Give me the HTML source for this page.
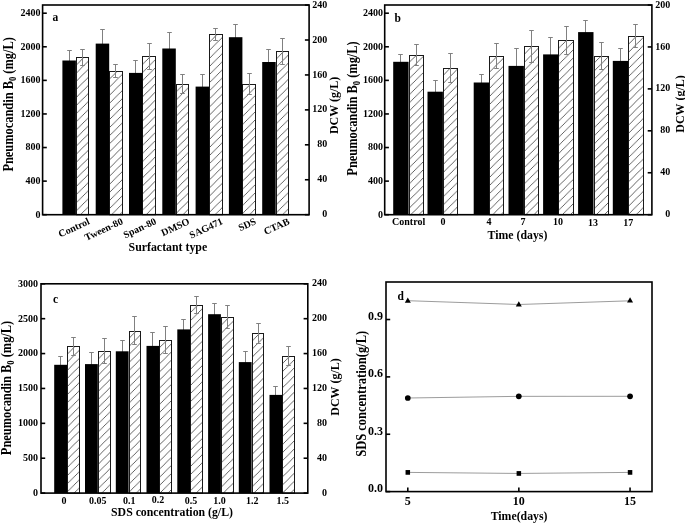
<!DOCTYPE html><html><head><meta charset="utf-8"><style>html,body{margin:0;padding:0;background:#fff;width:685px;height:523px;overflow:hidden}svg{display:block;will-change:transform}text{font-family:"Liberation Serif",serif;font-weight:bold;fill:#000}</style></head><body>
<svg width="685" height="523" viewBox="0 0 685 523">
<rect width="685" height="523" fill="#fff"/>
<pattern id="h1" patternUnits="userSpaceOnUse" x="75.9" y="57.3" width="8.1" height="8.1"><path d="M-1,1 L1,-1 M0,8.1 L8.1,0 M7.1,9.1 L9.1,7.1" stroke="#484848" stroke-width="0.85"/></pattern>
<rect x="76.5" y="57.5" width="12" height="157.2" fill="url(#h1)" stroke="#1a1a1a" stroke-width="1"/>
<line x1="82.5" y1="49.5" x2="82.5" y2="65.5" stroke="#808080" stroke-width="1"/>
<line x1="80.2" y1="49.5" x2="84.8" y2="49.5" stroke="#808080" stroke-width="1"/>
<line x1="80.2" y1="65.5" x2="84.8" y2="65.5" stroke="#808080" stroke-width="1"/>
<line x1="69.5" y1="50.5" x2="69.5" y2="70.5" stroke="#808080" stroke-width="1"/>
<line x1="67.2" y1="50.5" x2="71.8" y2="50.5" stroke="#808080" stroke-width="1"/>
<line x1="67.2" y1="70.5" x2="71.8" y2="70.5" stroke="#808080" stroke-width="1"/>
<rect x="62.4" y="60.5" width="13.5" height="154.2" fill="#000"/>
<pattern id="h2" patternUnits="userSpaceOnUse" x="109.2" y="71.2" width="8.1" height="8.1"><path d="M-1,1 L1,-1 M0,8.1 L8.1,0 M7.1,9.1 L9.1,7.1" stroke="#484848" stroke-width="0.85"/></pattern>
<rect x="109.5" y="71.5" width="13" height="143.2" fill="url(#h2)" stroke="#1a1a1a" stroke-width="1"/>
<line x1="115.5" y1="64.5" x2="115.5" y2="77.5" stroke="#808080" stroke-width="1"/>
<line x1="113.2" y1="64.5" x2="117.8" y2="64.5" stroke="#808080" stroke-width="1"/>
<line x1="113.2" y1="77.5" x2="117.8" y2="77.5" stroke="#808080" stroke-width="1"/>
<line x1="102.5" y1="29.5" x2="102.5" y2="57.5" stroke="#808080" stroke-width="1"/>
<line x1="100.2" y1="29.5" x2="104.8" y2="29.5" stroke="#808080" stroke-width="1"/>
<line x1="100.2" y1="57.5" x2="104.8" y2="57.5" stroke="#808080" stroke-width="1"/>
<rect x="95.7" y="43.6" width="13.5" height="171.1" fill="#000"/>
<pattern id="h3" patternUnits="userSpaceOnUse" x="142.5" y="56.3" width="8.1" height="8.1"><path d="M-1,1 L1,-1 M0,8.1 L8.1,0 M7.1,9.1 L9.1,7.1" stroke="#484848" stroke-width="0.85"/></pattern>
<rect x="142.5" y="56.5" width="13" height="158.2" fill="url(#h3)" stroke="#1a1a1a" stroke-width="1"/>
<line x1="149.5" y1="43.5" x2="149.5" y2="69.5" stroke="#808080" stroke-width="1"/>
<line x1="147.2" y1="43.5" x2="151.8" y2="43.5" stroke="#808080" stroke-width="1"/>
<line x1="147.2" y1="69.5" x2="151.8" y2="69.5" stroke="#808080" stroke-width="1"/>
<line x1="135.5" y1="60.5" x2="135.5" y2="84.5" stroke="#808080" stroke-width="1"/>
<line x1="133.2" y1="60.5" x2="137.8" y2="60.5" stroke="#808080" stroke-width="1"/>
<line x1="133.2" y1="84.5" x2="137.8" y2="84.5" stroke="#808080" stroke-width="1"/>
<rect x="129" y="72.9" width="13.5" height="141.8" fill="#000"/>
<pattern id="h4" patternUnits="userSpaceOnUse" x="175.8" y="84.1" width="8.1" height="8.1"><path d="M-1,1 L1,-1 M0,8.1 L8.1,0 M7.1,9.1 L9.1,7.1" stroke="#484848" stroke-width="0.85"/></pattern>
<rect x="176.5" y="84.5" width="12" height="130.2" fill="url(#h4)" stroke="#1a1a1a" stroke-width="1"/>
<line x1="182.5" y1="74.5" x2="182.5" y2="93.5" stroke="#808080" stroke-width="1"/>
<line x1="180.2" y1="74.5" x2="184.8" y2="74.5" stroke="#808080" stroke-width="1"/>
<line x1="180.2" y1="93.5" x2="184.8" y2="93.5" stroke="#808080" stroke-width="1"/>
<line x1="169.5" y1="32.5" x2="169.5" y2="64.5" stroke="#808080" stroke-width="1"/>
<line x1="167.2" y1="32.5" x2="171.8" y2="32.5" stroke="#808080" stroke-width="1"/>
<line x1="167.2" y1="64.5" x2="171.8" y2="64.5" stroke="#808080" stroke-width="1"/>
<rect x="162.3" y="48.5" width="13.5" height="166.2" fill="#000"/>
<pattern id="h5" patternUnits="userSpaceOnUse" x="209.1" y="34.4" width="8.1" height="8.1"><path d="M-1,1 L1,-1 M0,8.1 L8.1,0 M7.1,9.1 L9.1,7.1" stroke="#484848" stroke-width="0.85"/></pattern>
<rect x="209.5" y="34.5" width="13" height="180.2" fill="url(#h5)" stroke="#1a1a1a" stroke-width="1"/>
<line x1="215.5" y1="28.5" x2="215.5" y2="40.5" stroke="#808080" stroke-width="1"/>
<line x1="213.2" y1="28.5" x2="217.8" y2="28.5" stroke="#808080" stroke-width="1"/>
<line x1="213.2" y1="40.5" x2="217.8" y2="40.5" stroke="#808080" stroke-width="1"/>
<line x1="202.5" y1="74.5" x2="202.5" y2="98.5" stroke="#808080" stroke-width="1"/>
<line x1="200.2" y1="74.5" x2="204.8" y2="74.5" stroke="#808080" stroke-width="1"/>
<line x1="200.2" y1="98.5" x2="204.8" y2="98.5" stroke="#808080" stroke-width="1"/>
<rect x="195.6" y="86.6" width="13.5" height="128.1" fill="#000"/>
<pattern id="h6" patternUnits="userSpaceOnUse" x="242.4" y="84.1" width="8.1" height="8.1"><path d="M-1,1 L1,-1 M0,8.1 L8.1,0 M7.1,9.1 L9.1,7.1" stroke="#484848" stroke-width="0.85"/></pattern>
<rect x="242.5" y="84.5" width="13" height="130.2" fill="url(#h6)" stroke="#1a1a1a" stroke-width="1"/>
<line x1="249.5" y1="73.5" x2="249.5" y2="94.5" stroke="#808080" stroke-width="1"/>
<line x1="247.2" y1="73.5" x2="251.8" y2="73.5" stroke="#808080" stroke-width="1"/>
<line x1="247.2" y1="94.5" x2="251.8" y2="94.5" stroke="#808080" stroke-width="1"/>
<line x1="235.5" y1="24.5" x2="235.5" y2="49.5" stroke="#808080" stroke-width="1"/>
<line x1="233.2" y1="24.5" x2="237.8" y2="24.5" stroke="#808080" stroke-width="1"/>
<line x1="233.2" y1="49.5" x2="237.8" y2="49.5" stroke="#808080" stroke-width="1"/>
<rect x="228.9" y="37.2" width="13.5" height="177.5" fill="#000"/>
<pattern id="h7" patternUnits="userSpaceOnUse" x="275.7" y="51.4" width="8.1" height="8.1"><path d="M-1,1 L1,-1 M0,8.1 L8.1,0 M7.1,9.1 L9.1,7.1" stroke="#484848" stroke-width="0.85"/></pattern>
<rect x="276.5" y="51.5" width="12" height="163.2" fill="url(#h7)" stroke="#1a1a1a" stroke-width="1"/>
<line x1="282.5" y1="38.5" x2="282.5" y2="64.5" stroke="#808080" stroke-width="1"/>
<line x1="280.2" y1="38.5" x2="284.8" y2="38.5" stroke="#808080" stroke-width="1"/>
<line x1="280.2" y1="64.5" x2="284.8" y2="64.5" stroke="#808080" stroke-width="1"/>
<line x1="268.5" y1="49.5" x2="268.5" y2="74.5" stroke="#808080" stroke-width="1"/>
<line x1="266.2" y1="49.5" x2="270.8" y2="49.5" stroke="#808080" stroke-width="1"/>
<line x1="266.2" y1="74.5" x2="270.8" y2="74.5" stroke="#808080" stroke-width="1"/>
<rect x="262.2" y="62" width="13.5" height="152.7" fill="#000"/>
<rect x="42.6" y="5" width="266.5" height="209.7" fill="none" stroke="#000" stroke-width="1.6"/>
<line x1="42.6" y1="214.7" x2="46.8" y2="214.7" stroke="#000" stroke-width="1.6"/>
<text x="40.6" y="217.5" font-size="10" text-anchor="end" >0</text>
<line x1="42.6" y1="181.12" x2="46.8" y2="181.12" stroke="#000" stroke-width="1.6"/>
<text x="40.6" y="183.92" font-size="10" text-anchor="end" >400</text>
<line x1="42.6" y1="147.53" x2="46.8" y2="147.53" stroke="#000" stroke-width="1.6"/>
<text x="40.6" y="150.33" font-size="10" text-anchor="end" >800</text>
<line x1="42.6" y1="113.95" x2="46.8" y2="113.95" stroke="#000" stroke-width="1.6"/>
<text x="40.6" y="116.75" font-size="10" text-anchor="end" >1200</text>
<line x1="42.6" y1="80.37" x2="46.8" y2="80.37" stroke="#000" stroke-width="1.6"/>
<text x="40.6" y="83.17" font-size="10" text-anchor="end" >1600</text>
<line x1="42.6" y1="46.78" x2="46.8" y2="46.78" stroke="#000" stroke-width="1.6"/>
<text x="40.6" y="49.58" font-size="10" text-anchor="end" >2000</text>
<line x1="42.6" y1="13.2" x2="46.8" y2="13.2" stroke="#000" stroke-width="1.6"/>
<text x="40.6" y="16" font-size="10" text-anchor="end" >2400</text>
<line x1="304.9" y1="214.7" x2="309.1" y2="214.7" stroke="#000" stroke-width="1.6"/>
<text x="327.2" y="217.3" font-size="10" text-anchor="end" >0</text>
<line x1="304.9" y1="179.76" x2="309.1" y2="179.76" stroke="#000" stroke-width="1.6"/>
<text x="327.2" y="182.36" font-size="10" text-anchor="end" >40</text>
<line x1="304.9" y1="144.82" x2="309.1" y2="144.82" stroke="#000" stroke-width="1.6"/>
<text x="327.2" y="147.42" font-size="10" text-anchor="end" >80</text>
<line x1="304.9" y1="109.88" x2="309.1" y2="109.88" stroke="#000" stroke-width="1.6"/>
<text x="327.2" y="112.48" font-size="10" text-anchor="end" >120</text>
<line x1="304.9" y1="74.94" x2="309.1" y2="74.94" stroke="#000" stroke-width="1.6"/>
<text x="327.2" y="77.54" font-size="10" text-anchor="end" >160</text>
<line x1="304.9" y1="40" x2="309.1" y2="40" stroke="#000" stroke-width="1.6"/>
<text x="327.2" y="42.6" font-size="10" text-anchor="end" >200</text>
<line x1="304.9" y1="5.06" x2="309.1" y2="5.06" stroke="#000" stroke-width="1.6"/>
<text x="327.2" y="7.66" font-size="10" text-anchor="end" >240</text>
<text x="52.6" y="21.1" font-size="11.5" text-anchor="start" >a</text>
<text x="90.4" y="223.6" font-size="10" text-anchor="end" transform="rotate(-25 90.4 223.6)">Control</text>
<text x="123.7" y="223.6" font-size="10" text-anchor="end" transform="rotate(-25 123.7 223.6)">Tween-80</text>
<text x="157" y="223.6" font-size="10" text-anchor="end" transform="rotate(-25 157 223.6)">Span-80</text>
<text x="190.3" y="223.6" font-size="10" text-anchor="end" transform="rotate(-25 190.3 223.6)">DMSO</text>
<text x="223.6" y="223.6" font-size="10" text-anchor="end" transform="rotate(-25 223.6 223.6)">SAG471</text>
<text x="256.9" y="223.6" font-size="10" text-anchor="end" transform="rotate(-25 256.9 223.6)">SDS</text>
<text x="290.2" y="223.6" font-size="10" text-anchor="end" transform="rotate(-25 290.2 223.6)">CTAB</text>
<text x="167.9" y="250.5" font-size="11.85" text-anchor="middle" >Surfactant type</text>
<text x="0" y="0" font-size="12.4" text-anchor="middle" transform="translate(12.8 104.4) rotate(-90) scale(1 1.1)">Pneumocandin B<tspan font-size="8.68" dy="2.73">0</tspan><tspan dy="-2.73"> (mg/L)</tspan></text>
<text x="0" y="0" font-size="12" text-anchor="middle" transform="translate(338.2 105.4) rotate(-90) scale(1 1.1)">DCW (g/L)</text>
<pattern id="h8" patternUnits="userSpaceOnUse" x="408.6" y="54.9" width="8.1" height="8.1"><path d="M-1,1 L1,-1 M0,8.1 L8.1,0 M7.1,9.1 L9.1,7.1" stroke="#484848" stroke-width="0.85"/></pattern>
<rect x="409.5" y="55.5" width="14" height="159.2" fill="url(#h8)" stroke="#1a1a1a" stroke-width="1"/>
<line x1="416.5" y1="44.5" x2="416.5" y2="65.5" stroke="#808080" stroke-width="1"/>
<line x1="414.2" y1="44.5" x2="418.8" y2="44.5" stroke="#808080" stroke-width="1"/>
<line x1="414.2" y1="65.5" x2="418.8" y2="65.5" stroke="#808080" stroke-width="1"/>
<line x1="400.5" y1="54.5" x2="400.5" y2="69.5" stroke="#808080" stroke-width="1"/>
<line x1="398.2" y1="54.5" x2="402.8" y2="54.5" stroke="#808080" stroke-width="1"/>
<line x1="398.2" y1="69.5" x2="402.8" y2="69.5" stroke="#808080" stroke-width="1"/>
<rect x="393.2" y="61.8" width="15.4" height="152.9" fill="#000"/>
<pattern id="h9" patternUnits="userSpaceOnUse" x="442.9" y="67.5" width="8.1" height="8.1"><path d="M-1,1 L1,-1 M0,8.1 L8.1,0 M7.1,9.1 L9.1,7.1" stroke="#484848" stroke-width="0.85"/></pattern>
<rect x="443.5" y="68.5" width="14" height="146.2" fill="url(#h9)" stroke="#1a1a1a" stroke-width="1"/>
<line x1="450.5" y1="53.5" x2="450.5" y2="82.5" stroke="#808080" stroke-width="1"/>
<line x1="448.2" y1="53.5" x2="452.8" y2="53.5" stroke="#808080" stroke-width="1"/>
<line x1="448.2" y1="82.5" x2="452.8" y2="82.5" stroke="#808080" stroke-width="1"/>
<line x1="435.5" y1="80.5" x2="435.5" y2="102.5" stroke="#808080" stroke-width="1"/>
<line x1="433.2" y1="80.5" x2="437.8" y2="80.5" stroke="#808080" stroke-width="1"/>
<line x1="433.2" y1="102.5" x2="437.8" y2="102.5" stroke="#808080" stroke-width="1"/>
<rect x="427.5" y="91.7" width="15.4" height="123" fill="#000"/>
<pattern id="h10" patternUnits="userSpaceOnUse" x="489.1" y="56.3" width="8.1" height="8.1"><path d="M-1,1 L1,-1 M0,8.1 L8.1,0 M7.1,9.1 L9.1,7.1" stroke="#484848" stroke-width="0.85"/></pattern>
<rect x="489.5" y="56.5" width="14" height="158.2" fill="url(#h10)" stroke="#1a1a1a" stroke-width="1"/>
<line x1="496.5" y1="43.5" x2="496.5" y2="68.5" stroke="#808080" stroke-width="1"/>
<line x1="494.2" y1="43.5" x2="498.8" y2="43.5" stroke="#808080" stroke-width="1"/>
<line x1="494.2" y1="68.5" x2="498.8" y2="68.5" stroke="#808080" stroke-width="1"/>
<line x1="481.5" y1="74.5" x2="481.5" y2="90.5" stroke="#808080" stroke-width="1"/>
<line x1="479.2" y1="74.5" x2="483.8" y2="74.5" stroke="#808080" stroke-width="1"/>
<line x1="479.2" y1="90.5" x2="483.8" y2="90.5" stroke="#808080" stroke-width="1"/>
<rect x="473.7" y="82.5" width="15.4" height="132.2" fill="#000"/>
<pattern id="h11" patternUnits="userSpaceOnUse" x="523.9" y="46.5" width="8.1" height="8.1"><path d="M-1,1 L1,-1 M0,8.1 L8.1,0 M7.1,9.1 L9.1,7.1" stroke="#484848" stroke-width="0.85"/></pattern>
<rect x="524.5" y="46.5" width="14" height="168.2" fill="url(#h11)" stroke="#1a1a1a" stroke-width="1"/>
<line x1="531.5" y1="30.5" x2="531.5" y2="62.5" stroke="#808080" stroke-width="1"/>
<line x1="529.2" y1="30.5" x2="533.8" y2="30.5" stroke="#808080" stroke-width="1"/>
<line x1="529.2" y1="62.5" x2="533.8" y2="62.5" stroke="#808080" stroke-width="1"/>
<line x1="516.5" y1="48.5" x2="516.5" y2="83.5" stroke="#808080" stroke-width="1"/>
<line x1="514.2" y1="48.5" x2="518.8" y2="48.5" stroke="#808080" stroke-width="1"/>
<line x1="514.2" y1="83.5" x2="518.8" y2="83.5" stroke="#808080" stroke-width="1"/>
<rect x="508.5" y="65.9" width="15.4" height="148.8" fill="#000"/>
<pattern id="h12" patternUnits="userSpaceOnUse" x="558.5" y="40.3" width="8.1" height="8.1"><path d="M-1,1 L1,-1 M0,8.1 L8.1,0 M7.1,9.1 L9.1,7.1" stroke="#484848" stroke-width="0.85"/></pattern>
<rect x="558.5" y="40.5" width="15" height="174.2" fill="url(#h12)" stroke="#1a1a1a" stroke-width="1"/>
<line x1="566.5" y1="26.5" x2="566.5" y2="54.5" stroke="#808080" stroke-width="1"/>
<line x1="564.2" y1="26.5" x2="568.8" y2="26.5" stroke="#808080" stroke-width="1"/>
<line x1="564.2" y1="54.5" x2="568.8" y2="54.5" stroke="#808080" stroke-width="1"/>
<line x1="550.5" y1="37.5" x2="550.5" y2="71.5" stroke="#808080" stroke-width="1"/>
<line x1="548.2" y1="37.5" x2="552.8" y2="37.5" stroke="#808080" stroke-width="1"/>
<line x1="548.2" y1="71.5" x2="552.8" y2="71.5" stroke="#808080" stroke-width="1"/>
<rect x="543.1" y="54.4" width="15.4" height="160.3" fill="#000"/>
<pattern id="h13" patternUnits="userSpaceOnUse" x="593.5" y="55.5" width="8.1" height="8.1"><path d="M-1,1 L1,-1 M0,8.1 L8.1,0 M7.1,9.1 L9.1,7.1" stroke="#484848" stroke-width="0.85"/></pattern>
<rect x="594.5" y="56.5" width="14" height="158.2" fill="url(#h13)" stroke="#1a1a1a" stroke-width="1"/>
<line x1="601.5" y1="42.5" x2="601.5" y2="69.5" stroke="#808080" stroke-width="1"/>
<line x1="599.2" y1="42.5" x2="603.8" y2="42.5" stroke="#808080" stroke-width="1"/>
<line x1="599.2" y1="69.5" x2="603.8" y2="69.5" stroke="#808080" stroke-width="1"/>
<line x1="585.5" y1="20.5" x2="585.5" y2="43.5" stroke="#808080" stroke-width="1"/>
<line x1="583.2" y1="20.5" x2="587.8" y2="20.5" stroke="#808080" stroke-width="1"/>
<line x1="583.2" y1="43.5" x2="587.8" y2="43.5" stroke="#808080" stroke-width="1"/>
<rect x="578.1" y="32.1" width="15.4" height="182.6" fill="#000"/>
<pattern id="h14" patternUnits="userSpaceOnUse" x="628.2" y="36.4" width="8.1" height="8.1"><path d="M-1,1 L1,-1 M0,8.1 L8.1,0 M7.1,9.1 L9.1,7.1" stroke="#484848" stroke-width="0.85"/></pattern>
<rect x="628.5" y="36.5" width="15" height="178.2" fill="url(#h14)" stroke="#1a1a1a" stroke-width="1"/>
<line x1="635.5" y1="24.5" x2="635.5" y2="47.5" stroke="#808080" stroke-width="1"/>
<line x1="633.2" y1="24.5" x2="637.8" y2="24.5" stroke="#808080" stroke-width="1"/>
<line x1="633.2" y1="47.5" x2="637.8" y2="47.5" stroke="#808080" stroke-width="1"/>
<line x1="620.5" y1="48.5" x2="620.5" y2="73.5" stroke="#808080" stroke-width="1"/>
<line x1="618.2" y1="48.5" x2="622.8" y2="48.5" stroke="#808080" stroke-width="1"/>
<line x1="618.2" y1="73.5" x2="622.8" y2="73.5" stroke="#808080" stroke-width="1"/>
<rect x="612.8" y="60.9" width="15.4" height="153.8" fill="#000"/>
<rect x="384.7" y="5" width="267.2" height="209.7" fill="none" stroke="#000" stroke-width="1.6"/>
<line x1="384.7" y1="214.7" x2="388.9" y2="214.7" stroke="#000" stroke-width="1.6"/>
<text x="383" y="217.5" font-size="10" text-anchor="end" >0</text>
<line x1="384.7" y1="181.12" x2="388.9" y2="181.12" stroke="#000" stroke-width="1.6"/>
<text x="383" y="183.92" font-size="10" text-anchor="end" >400</text>
<line x1="384.7" y1="147.53" x2="388.9" y2="147.53" stroke="#000" stroke-width="1.6"/>
<text x="383" y="150.33" font-size="10" text-anchor="end" >800</text>
<line x1="384.7" y1="113.95" x2="388.9" y2="113.95" stroke="#000" stroke-width="1.6"/>
<text x="383" y="116.75" font-size="10" text-anchor="end" >1200</text>
<line x1="384.7" y1="80.37" x2="388.9" y2="80.37" stroke="#000" stroke-width="1.6"/>
<text x="383" y="83.17" font-size="10" text-anchor="end" >1600</text>
<line x1="384.7" y1="46.78" x2="388.9" y2="46.78" stroke="#000" stroke-width="1.6"/>
<text x="383" y="49.58" font-size="10" text-anchor="end" >2000</text>
<line x1="384.7" y1="13.2" x2="388.9" y2="13.2" stroke="#000" stroke-width="1.6"/>
<text x="383" y="16" font-size="10" text-anchor="end" >2400</text>
<line x1="647.7" y1="214.7" x2="651.9" y2="214.7" stroke="#000" stroke-width="1.6"/>
<text x="670.2" y="217.3" font-size="10" text-anchor="end" >0</text>
<line x1="647.7" y1="172.76" x2="651.9" y2="172.76" stroke="#000" stroke-width="1.6"/>
<text x="670.2" y="175.36" font-size="10" text-anchor="end" >40</text>
<line x1="647.7" y1="130.82" x2="651.9" y2="130.82" stroke="#000" stroke-width="1.6"/>
<text x="670.2" y="133.42" font-size="10" text-anchor="end" >80</text>
<line x1="647.7" y1="88.88" x2="651.9" y2="88.88" stroke="#000" stroke-width="1.6"/>
<text x="670.2" y="91.48" font-size="10" text-anchor="end" >120</text>
<line x1="647.7" y1="46.94" x2="651.9" y2="46.94" stroke="#000" stroke-width="1.6"/>
<text x="670.2" y="49.54" font-size="10" text-anchor="end" >160</text>
<line x1="647.7" y1="5" x2="651.9" y2="5" stroke="#000" stroke-width="1.6"/>
<text x="670.2" y="7.6" font-size="10" text-anchor="end" >200</text>
<text x="394.5" y="22.3" font-size="11.5" text-anchor="start" >b</text>
<text x="408.6" y="225.2" font-size="10" text-anchor="middle" >Control</text>
<text x="442.9" y="225.2" font-size="10" text-anchor="middle" >0</text>
<text x="489.1" y="225.2" font-size="10" text-anchor="middle" >4</text>
<text x="522.9" y="225.2" font-size="10" text-anchor="middle" >7</text>
<text x="557.9" y="225.2" font-size="10" text-anchor="middle" >10</text>
<text x="593" y="225.8" font-size="10" text-anchor="middle" >13</text>
<text x="628.2" y="225.9" font-size="10" text-anchor="middle" >17</text>
<text x="517.5" y="239.2" font-size="11.8" text-anchor="middle" >Time (days)</text>
<text x="0" y="0" font-size="12.4" text-anchor="middle" transform="translate(356.8 108.5) rotate(-90) scale(1 1.1)">Pneumocandin B<tspan font-size="8.68" dy="2.73">0</tspan><tspan dy="-2.73"> (mg/L)</tspan></text>
<text x="0" y="0" font-size="12" text-anchor="middle" transform="translate(683.5 104) rotate(-90) scale(1 1.1)">DCW (g/L)</text>
<pattern id="h15" patternUnits="userSpaceOnUse" x="67" y="346.3" width="8.1" height="8.1"><path d="M-1,1 L1,-1 M0,8.1 L8.1,0 M7.1,9.1 L9.1,7.1" stroke="#484848" stroke-width="0.85"/></pattern>
<rect x="67.5" y="346.5" width="12" height="146.6" fill="url(#h15)" stroke="#1a1a1a" stroke-width="1"/>
<line x1="73.5" y1="337.5" x2="73.5" y2="355.5" stroke="#808080" stroke-width="1"/>
<line x1="71.2" y1="337.5" x2="75.8" y2="337.5" stroke="#808080" stroke-width="1"/>
<line x1="71.2" y1="355.5" x2="75.8" y2="355.5" stroke="#808080" stroke-width="1"/>
<line x1="60.5" y1="356.5" x2="60.5" y2="373.5" stroke="#808080" stroke-width="1"/>
<line x1="58.2" y1="356.5" x2="62.8" y2="356.5" stroke="#808080" stroke-width="1"/>
<line x1="58.2" y1="373.5" x2="62.8" y2="373.5" stroke="#808080" stroke-width="1"/>
<rect x="54.2" y="364.8" width="12.8" height="128.3" fill="#000"/>
<pattern id="h16" patternUnits="userSpaceOnUse" x="97.8" y="351.3" width="8.1" height="8.1"><path d="M-1,1 L1,-1 M0,8.1 L8.1,0 M7.1,9.1 L9.1,7.1" stroke="#484848" stroke-width="0.85"/></pattern>
<rect x="98.5" y="351.5" width="12" height="141.6" fill="url(#h16)" stroke="#1a1a1a" stroke-width="1"/>
<line x1="104.5" y1="338.5" x2="104.5" y2="363.5" stroke="#808080" stroke-width="1"/>
<line x1="102.2" y1="338.5" x2="106.8" y2="338.5" stroke="#808080" stroke-width="1"/>
<line x1="102.2" y1="363.5" x2="106.8" y2="363.5" stroke="#808080" stroke-width="1"/>
<line x1="91.5" y1="352.5" x2="91.5" y2="375.5" stroke="#808080" stroke-width="1"/>
<line x1="89.2" y1="352.5" x2="93.8" y2="352.5" stroke="#808080" stroke-width="1"/>
<line x1="89.2" y1="375.5" x2="93.8" y2="375.5" stroke="#808080" stroke-width="1"/>
<rect x="85" y="364.1" width="12.8" height="129" fill="#000"/>
<pattern id="h17" patternUnits="userSpaceOnUse" x="128.6" y="330.6" width="8.1" height="8.1"><path d="M-1,1 L1,-1 M0,8.1 L8.1,0 M7.1,9.1 L9.1,7.1" stroke="#484848" stroke-width="0.85"/></pattern>
<rect x="129.5" y="331.5" width="11" height="161.6" fill="url(#h17)" stroke="#1a1a1a" stroke-width="1"/>
<line x1="134.5" y1="316.5" x2="134.5" y2="344.5" stroke="#808080" stroke-width="1"/>
<line x1="132.2" y1="316.5" x2="136.8" y2="316.5" stroke="#808080" stroke-width="1"/>
<line x1="132.2" y1="344.5" x2="136.8" y2="344.5" stroke="#808080" stroke-width="1"/>
<line x1="122.5" y1="340.5" x2="122.5" y2="361.5" stroke="#808080" stroke-width="1"/>
<line x1="120.2" y1="340.5" x2="124.8" y2="340.5" stroke="#808080" stroke-width="1"/>
<line x1="120.2" y1="361.5" x2="124.8" y2="361.5" stroke="#808080" stroke-width="1"/>
<rect x="115.8" y="351.3" width="12.8" height="141.8" fill="#000"/>
<pattern id="h18" patternUnits="userSpaceOnUse" x="159.3" y="339.8" width="8.1" height="8.1"><path d="M-1,1 L1,-1 M0,8.1 L8.1,0 M7.1,9.1 L9.1,7.1" stroke="#484848" stroke-width="0.85"/></pattern>
<rect x="159.5" y="340.5" width="12" height="152.6" fill="url(#h18)" stroke="#1a1a1a" stroke-width="1"/>
<line x1="165.5" y1="326.5" x2="165.5" y2="353.5" stroke="#808080" stroke-width="1"/>
<line x1="163.2" y1="326.5" x2="167.8" y2="326.5" stroke="#808080" stroke-width="1"/>
<line x1="163.2" y1="353.5" x2="167.8" y2="353.5" stroke="#808080" stroke-width="1"/>
<line x1="152.5" y1="332.5" x2="152.5" y2="359.5" stroke="#808080" stroke-width="1"/>
<line x1="150.2" y1="332.5" x2="154.8" y2="332.5" stroke="#808080" stroke-width="1"/>
<line x1="150.2" y1="359.5" x2="154.8" y2="359.5" stroke="#808080" stroke-width="1"/>
<rect x="146.5" y="345.9" width="12.8" height="147.2" fill="#000"/>
<pattern id="h19" patternUnits="userSpaceOnUse" x="190.1" y="304.8" width="8.1" height="8.1"><path d="M-1,1 L1,-1 M0,8.1 L8.1,0 M7.1,9.1 L9.1,7.1" stroke="#484848" stroke-width="0.85"/></pattern>
<rect x="190.5" y="305.5" width="12" height="187.6" fill="url(#h19)" stroke="#1a1a1a" stroke-width="1"/>
<line x1="196.5" y1="296.5" x2="196.5" y2="313.5" stroke="#808080" stroke-width="1"/>
<line x1="194.2" y1="296.5" x2="198.8" y2="296.5" stroke="#808080" stroke-width="1"/>
<line x1="194.2" y1="313.5" x2="198.8" y2="313.5" stroke="#808080" stroke-width="1"/>
<line x1="183.5" y1="319.5" x2="183.5" y2="339.5" stroke="#808080" stroke-width="1"/>
<line x1="181.2" y1="319.5" x2="185.8" y2="319.5" stroke="#808080" stroke-width="1"/>
<line x1="181.2" y1="339.5" x2="185.8" y2="339.5" stroke="#808080" stroke-width="1"/>
<rect x="177.3" y="329.4" width="12.8" height="163.7" fill="#000"/>
<pattern id="h20" patternUnits="userSpaceOnUse" x="220.9" y="317.3" width="8.1" height="8.1"><path d="M-1,1 L1,-1 M0,8.1 L8.1,0 M7.1,9.1 L9.1,7.1" stroke="#484848" stroke-width="0.85"/></pattern>
<rect x="221.5" y="317.5" width="12" height="175.6" fill="url(#h20)" stroke="#1a1a1a" stroke-width="1"/>
<line x1="227.5" y1="305.5" x2="227.5" y2="328.5" stroke="#808080" stroke-width="1"/>
<line x1="225.2" y1="305.5" x2="229.8" y2="305.5" stroke="#808080" stroke-width="1"/>
<line x1="225.2" y1="328.5" x2="229.8" y2="328.5" stroke="#808080" stroke-width="1"/>
<line x1="214.5" y1="303.5" x2="214.5" y2="324.5" stroke="#808080" stroke-width="1"/>
<line x1="212.2" y1="303.5" x2="216.8" y2="303.5" stroke="#808080" stroke-width="1"/>
<line x1="212.2" y1="324.5" x2="216.8" y2="324.5" stroke="#808080" stroke-width="1"/>
<rect x="208.1" y="314.2" width="12.8" height="178.9" fill="#000"/>
<pattern id="h21" patternUnits="userSpaceOnUse" x="251.6" y="333.4" width="8.1" height="8.1"><path d="M-1,1 L1,-1 M0,8.1 L8.1,0 M7.1,9.1 L9.1,7.1" stroke="#484848" stroke-width="0.85"/></pattern>
<rect x="252.5" y="333.5" width="11" height="159.6" fill="url(#h21)" stroke="#1a1a1a" stroke-width="1"/>
<line x1="258.5" y1="323.5" x2="258.5" y2="343.5" stroke="#808080" stroke-width="1"/>
<line x1="256.2" y1="323.5" x2="260.8" y2="323.5" stroke="#808080" stroke-width="1"/>
<line x1="256.2" y1="343.5" x2="260.8" y2="343.5" stroke="#808080" stroke-width="1"/>
<line x1="245.5" y1="351.5" x2="245.5" y2="372.5" stroke="#808080" stroke-width="1"/>
<line x1="243.2" y1="351.5" x2="247.8" y2="351.5" stroke="#808080" stroke-width="1"/>
<line x1="243.2" y1="372.5" x2="247.8" y2="372.5" stroke="#808080" stroke-width="1"/>
<rect x="238.8" y="362.1" width="12.8" height="131" fill="#000"/>
<pattern id="h22" patternUnits="userSpaceOnUse" x="282.3" y="355.6" width="8.1" height="8.1"><path d="M-1,1 L1,-1 M0,8.1 L8.1,0 M7.1,9.1 L9.1,7.1" stroke="#484848" stroke-width="0.85"/></pattern>
<rect x="282.5" y="356.5" width="12" height="136.6" fill="url(#h22)" stroke="#1a1a1a" stroke-width="1"/>
<line x1="288.5" y1="346.5" x2="288.5" y2="365.5" stroke="#808080" stroke-width="1"/>
<line x1="286.2" y1="346.5" x2="290.8" y2="346.5" stroke="#808080" stroke-width="1"/>
<line x1="286.2" y1="365.5" x2="290.8" y2="365.5" stroke="#808080" stroke-width="1"/>
<line x1="275.5" y1="386.5" x2="275.5" y2="403.5" stroke="#808080" stroke-width="1"/>
<line x1="273.2" y1="386.5" x2="277.8" y2="386.5" stroke="#808080" stroke-width="1"/>
<line x1="273.2" y1="403.5" x2="277.8" y2="403.5" stroke="#808080" stroke-width="1"/>
<rect x="269.5" y="394.9" width="12.8" height="98.2" fill="#000"/>
<rect x="41" y="283.8" width="266.8" height="209.3" fill="none" stroke="#000" stroke-width="1.6"/>
<line x1="41" y1="493.1" x2="45.2" y2="493.1" stroke="#000" stroke-width="1.6"/>
<text x="38.1" y="496" font-size="10" text-anchor="end" >0</text>
<line x1="41" y1="458.22" x2="45.2" y2="458.22" stroke="#000" stroke-width="1.6"/>
<text x="38.1" y="461.12" font-size="10" text-anchor="end" >500</text>
<line x1="41" y1="423.33" x2="45.2" y2="423.33" stroke="#000" stroke-width="1.6"/>
<text x="38.1" y="426.23" font-size="10" text-anchor="end" >1000</text>
<line x1="41" y1="388.45" x2="45.2" y2="388.45" stroke="#000" stroke-width="1.6"/>
<text x="38.1" y="391.35" font-size="10" text-anchor="end" >1500</text>
<line x1="41" y1="353.57" x2="45.2" y2="353.57" stroke="#000" stroke-width="1.6"/>
<text x="38.1" y="356.47" font-size="10" text-anchor="end" >2000</text>
<line x1="41" y1="318.68" x2="45.2" y2="318.68" stroke="#000" stroke-width="1.6"/>
<text x="38.1" y="321.58" font-size="10" text-anchor="end" >2500</text>
<line x1="41" y1="283.8" x2="45.2" y2="283.8" stroke="#000" stroke-width="1.6"/>
<text x="38.1" y="286.7" font-size="10" text-anchor="end" >3000</text>
<line x1="303.6" y1="493.1" x2="307.8" y2="493.1" stroke="#000" stroke-width="1.6"/>
<text x="327" y="495.7" font-size="10" text-anchor="end" >0</text>
<line x1="303.6" y1="458.22" x2="307.8" y2="458.22" stroke="#000" stroke-width="1.6"/>
<text x="327" y="460.82" font-size="10" text-anchor="end" >40</text>
<line x1="303.6" y1="423.33" x2="307.8" y2="423.33" stroke="#000" stroke-width="1.6"/>
<text x="327" y="425.93" font-size="10" text-anchor="end" >80</text>
<line x1="303.6" y1="388.45" x2="307.8" y2="388.45" stroke="#000" stroke-width="1.6"/>
<text x="327" y="391.05" font-size="10" text-anchor="end" >120</text>
<line x1="303.6" y1="353.57" x2="307.8" y2="353.57" stroke="#000" stroke-width="1.6"/>
<text x="327" y="356.17" font-size="10" text-anchor="end" >160</text>
<line x1="303.6" y1="318.68" x2="307.8" y2="318.68" stroke="#000" stroke-width="1.6"/>
<text x="327" y="321.28" font-size="10" text-anchor="end" >200</text>
<line x1="303.6" y1="283.8" x2="307.8" y2="283.8" stroke="#000" stroke-width="1.6"/>
<text x="327" y="286.4" font-size="10" text-anchor="end" >240</text>
<text x="53" y="302.5" font-size="11.5" text-anchor="start" >c</text>
<text x="63.9" y="503.5" font-size="10" text-anchor="middle" >0</text>
<text x="97.8" y="503.5" font-size="10" text-anchor="middle" >0.05</text>
<text x="129.3" y="503.5" font-size="10" text-anchor="middle" >0.1</text>
<text x="158" y="502.6" font-size="10" text-anchor="middle" >0.2</text>
<text x="191" y="504.3" font-size="10" text-anchor="middle" >0.5</text>
<text x="219.5" y="503.5" font-size="10" text-anchor="middle" >1.0</text>
<text x="252.3" y="504.1" font-size="10" text-anchor="middle" >1.2</text>
<text x="282.8" y="503.5" font-size="10" text-anchor="middle" >1.5</text>
<text x="172" y="515.5" font-size="11.8" text-anchor="middle" >SDS concentration (g/L)</text>
<text x="0" y="0" font-size="12.4" text-anchor="middle" transform="translate(10.5 388) rotate(-90) scale(1 1.1)">Pneumocandin B<tspan font-size="8.68" dy="2.73">0</tspan><tspan dy="-2.73"> (mg/L)</tspan></text>
<text x="0" y="0" font-size="12" text-anchor="middle" transform="translate(339.2 387) rotate(-90) scale(1 1.1)">DCW (g/L)</text>
<rect x="386" y="282" width="266" height="209.6" fill="none" stroke="#000" stroke-width="1.6"/>
<line x1="386" y1="491.6" x2="390.2" y2="491.6" stroke="#000" stroke-width="1.6"/>
<text x="383" y="491.9" font-size="12" text-anchor="end" >0.0</text>
<line x1="386" y1="434.24" x2="390.2" y2="434.24" stroke="#000" stroke-width="1.6"/>
<text x="383" y="434.54" font-size="12" text-anchor="end" >0.3</text>
<line x1="386" y1="376.88" x2="390.2" y2="376.88" stroke="#000" stroke-width="1.6"/>
<text x="383" y="377.18" font-size="12" text-anchor="end" >0.6</text>
<line x1="386" y1="319.52" x2="390.2" y2="319.52" stroke="#000" stroke-width="1.6"/>
<text x="383" y="319.82" font-size="12" text-anchor="end" >0.9</text>
<line x1="407.8" y1="487.4" x2="407.8" y2="491.6" stroke="#000" stroke-width="1.6"/>
<text x="407.8" y="504.6" font-size="12" text-anchor="middle" >5</text>
<line x1="518.85" y1="487.4" x2="518.85" y2="491.6" stroke="#000" stroke-width="1.6"/>
<text x="518.85" y="504.6" font-size="12" text-anchor="middle" >10</text>
<line x1="630.05" y1="487.4" x2="630.05" y2="491.6" stroke="#000" stroke-width="1.6"/>
<text x="630.05" y="504.6" font-size="12" text-anchor="middle" >15</text>
<text x="519.1" y="519.5" font-size="11.8" text-anchor="middle" >Time(days)</text>
<text x="0" y="0" font-size="12.5" text-anchor="middle" transform="translate(365.5 393.8) rotate(-90) scale(1 1.1)">SDS concentration(g/L)</text>
<text x="397.6" y="299.6" font-size="11.5" text-anchor="start" >d</text>
<polyline points="407.8,300.7 518.8,304.5 630.05,300.8" fill="none" stroke="#8a8a8a" stroke-width="0.85"/>
<polyline points="407.8,398 518.8,396.35 630.05,396.3" fill="none" stroke="#8a8a8a" stroke-width="0.85"/>
<polyline points="407.8,472.4 518.85,473.45 630.05,472.4" fill="none" stroke="#8a8a8a" stroke-width="0.85"/>
<path d="M407.8,297.4 L410.8,302.7 L404.8,302.7 Z" fill="#000"/>
<path d="M518.8,301.3 L521.8,306.6 L515.8,306.6 Z" fill="#000"/>
<path d="M630.05,297.3 L633.05,302.6 L627.05,302.6 Z" fill="#000"/>
<circle cx="407.8" cy="398" r="2.85" fill="#000"/>
<circle cx="518.8" cy="396.35" r="2.85" fill="#000"/>
<circle cx="630.05" cy="396.3" r="2.85" fill="#000"/>
<rect x="405.55" y="470.05" width="4.5" height="4.7" fill="#000"/>
<rect x="516.6" y="471.1" width="4.5" height="4.7" fill="#000"/>
<rect x="627.8" y="470.05" width="4.5" height="4.7" fill="#000"/>
</svg></body></html>
